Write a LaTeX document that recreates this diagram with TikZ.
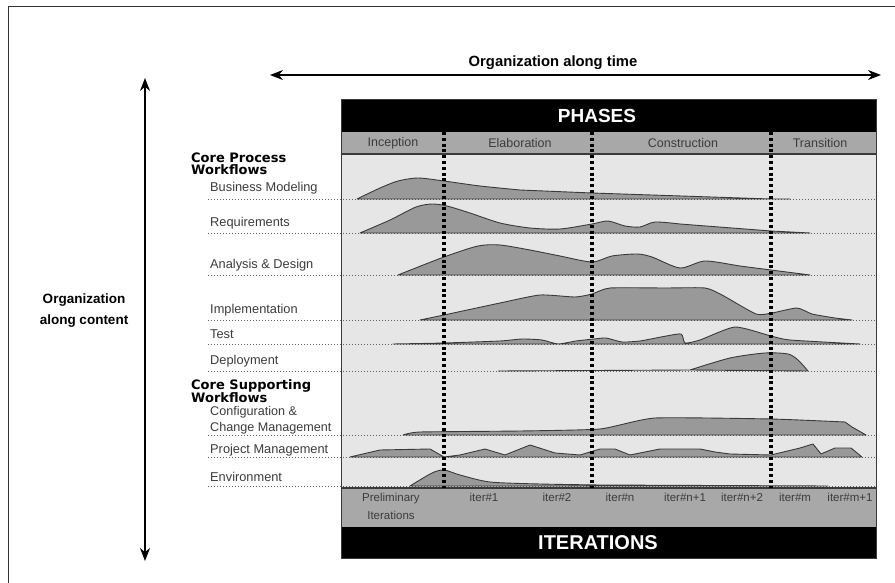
\documentclass[tikz,border=0pt]{standalone}
\usepackage{fontspec}
\setmainfont{Liberation Sans}
\newfontfamily\headfont{DejaVu Sans}
\usetikzlibrary{arrows.meta}
\definecolor{bodyc}{HTML}{E6E6E6}
\definecolor{barc}{HTML}{A8A8A8}
\definecolor{humpc}{HTML}{999999}
\definecolor{edgec}{HTML}{3A3A3A}
\definecolor{txtc}{HTML}{3C3C3C}
\tikzset{
  humpst/.style={fill=humpc,draw=edgec,line width=0.9pt,line join=round},
  baseln/.style={draw=edgec!80,line width=0.9pt,dash pattern=on 1.4pt off 1.6pt},
  phdiv/.style={draw=black,line width=3.3pt,dash pattern=on 3pt off 2.8pt},
  wlabel/.style={anchor=west,inner sep=0pt,text=txtc,font=\fontsize{12.8}{13}\selectfont},
  wlabel2/.style={anchor=west,inner sep=0pt,text=txtc,align=left,font=\fontsize{12.6}{15.5}\selectfont},
  head/.style={anchor=west,inner sep=0pt,align=left,font=\headfont\bfseries\fontsize{13}{11.8}\selectfont},
  phlabel/.style={inner sep=0pt,text=txtc,font=\fontsize{12.5}{12}\selectfont},
  itlabel/.style={inner sep=0pt,text=txtc,font=\fontsize{11.5}{12}\selectfont},
  bartext/.style={inner sep=0pt,text=white,font=\bfseries\fontsize{19}{19}\selectfont},
  dblarrow/.style={line width=1.3pt,{Stealth[length=13pt,width=10pt]}-{Stealth[length=13pt,width=10pt]}}
}
\begin{document}
\begin{tikzpicture}[x=1pt,y=-1pt]
\useasboundingbox (0,0) rectangle (895,583);
\fill[white] (0,0) rectangle (895,583);
% outer frame
\draw[line width=1pt,black!80] (8,583) -- (8,7) -- (895,7);

% axes arrows
\coordinate (tl) at (270,75);
\coordinate (tr) at (881,75);
\draw[dblarrow] (tl) -- (tr);
\node[inner sep=0pt,font=\bfseries\fontsize{14.8}{15}\selectfont] (otime) at (553,63) {Organization along time};
\coordinate (vt) at (145,78);
\coordinate (vb) at (145,561);
\draw[dblarrow] (vt) -- (vb);
\node[inner sep=0pt,align=center,font=\bfseries\fontsize{13.5}{21}\selectfont] (ocont) at (84,311) {Organization\\along content};

% panel
\fill[bodyc] (341,154) rectangle (876,488);
\fill[black] (341,100) rectangle (876,132);
\fill[barc] (341,132) rectangle (876,154);
\fill[barc] (341,488) rectangle (876,527);
\fill[black] (341,527) rectangle (876,558);
\draw[edgec,line width=1.4pt] (341,154) -- (876,154);
\draw[edgec,line width=1.4pt] (341,488) -- (876,488);
\draw[edgec,line width=1pt] (341,100) rectangle (876,558);
\node[bartext] (phases) at (597,116) {PHASES};
\node[bartext,font=\bfseries\fontsize{20}{20}\selectfont] (iters) at (598,543) {ITERATIONS};

% phase labels
\node[phlabel] (pinc) at (393,143) {Inception};
\node[phlabel] (pela) at (520,143) {Elaboration};
\node[phlabel] (pcon) at (683,143) {Construction};
\node[phlabel] (ptra) at (820,143) {Transition};

% iteration labels
\node[itlabel,align=center,font=\fontsize{11.5}{18}\selectfont] (ipre) at (391,506) {Preliminary\\Iterations};
\node[itlabel] (i1) at (484,497) {iter\#1};
\node[itlabel] (i2) at (557,497) {iter\#2};
\node[itlabel] (in) at (620,497) {iter\#n};
\node[itlabel] (in1) at (685,497) {iter\#n+1};
\node[itlabel] (in2) at (742,497) {iter\#n+2};
\node[itlabel] (itm) at (795,497) {iter\#m};
\node[itlabel] (im1) at (850,497) {iter\#m+1};

% headings
\node[head] (cpw) at (191,164) {Core Process\\Workflows};
\node[head] (csw) at (191,391) {Core Supporting\\Workflows};

% workflow labels
\node[wlabel] (bm) at (210,188) {Business Modeling};
\node[wlabel] (rq) at (210,223) {Requirements};
\node[wlabel] (ad) at (210,265) {Analysis \& Design};
\node[wlabel] (imp) at (210,310) {Implementation};
\node[wlabel] (ts) at (210,334) {Test};
\node[wlabel] (dp) at (210,361) {Deployment};
\node[wlabel2] (cm) at (210,420) {Configuration \&\\Change Management};
\node[wlabel] (pm) at (210,450) {Project Management};
\node[wlabel] (en) at (210,477) {Environment};

% dotted baselines
\foreach \y in {199,233,275,320,344,371,435,457,486}
  \draw[baseln] (208,\y) -- (876,\y);

% humps
% Business Modeling
\filldraw[humpst] plot[smooth,tension=.45] coordinates {(357,199) (380,188) (398,181) (418,178) (444,181) (480,186) (520,190)} -- (592,193) -- (771,199) -- (790,199) -- cycle;
% Requirements
\filldraw[humpst] plot[smooth,tension=.45] coordinates {(360,233) (390,220) (416,207) (432,204) (447,206) (470,213) (500,223) (530,228) (560,229) (592,224) (608,221) (625,226) (640,227) (655,222) (680,224)} -- (771,231) -- (810,233) -- cycle;
% Analysis & Design
\filldraw[humpst] plot[smooth,tension=.45] coordinates {(398,275) (444,257) (478,246) (500,245) (530,250) (560,256) (592,262) (612,256) (637,254) (652,257) (680,268) (705,261) (740,266) (771,270) (810,275)} -- cycle;
% Implementation
\filldraw[humpst] plot[smooth,tension=.35] coordinates {(420,320) (444,315) (500,303) (540,295) (575,297) (592,294) (610,288) (665,288) (705,288) (722,295) (756,314) (772,313) (797,308) (812,314) (835,318) (852,320)} -- cycle;
% Test
\filldraw[humpst] plot[smooth,tension=.35] coordinates {(393,344) (444,343) (500,341) (522,339) (542,340) (558,344) (576,341) (594,339) (606,338) (622,342) (640,341) (661,337) (681,334) (685,343) (700,340) (735,327) (771,336) (790,340) (860,344)} -- cycle;
% Deployment
\filldraw[humpst] (498,371) -- (690,370) plot[smooth,tension=.45] coordinates {(690,370) (730,358) (765,353) (788,354) (798,360) (808,371)} -- cycle;
% Configuration & Change Management
\filldraw[humpst] plot[smooth,tension=.3] coordinates {(403,435) (420,432) (520,431) (600,429) (655,418) (771,419) (845,422)} -- (852,427) -- (866,435) -- cycle;
% Project Management
\filldraw[humpst] (350,457) -- (380,450) -- (430,449) -- (444,457) -- (460,455) -- (485,449) -- (505,455) -- (530,445) -- (555,453) -- (580,455) -- (600,449) -- (615,449) -- (630,455) -- (660,449) -- (700,449) -- (715,452) -- (730,454) -- (771,455) -- (800,448) -- (813,444) -- (821,454) -- (835,448) -- (851,448) -- (862,457) -- cycle;
% Environment
\filldraw[humpst] plot[smooth,tension=.45] coordinates {(410,486) (432,473) (444,470) (460,475) (490,482) (540,484) (600,485)} -- (828,486) -- cycle;

% phase dividers
\draw[phdiv] (444,132) -- (444,488);
\draw[phdiv] (592,132) -- (592,488);
\draw[phdiv] (771,132) -- (771,488);
\end{tikzpicture}
\end{document}
